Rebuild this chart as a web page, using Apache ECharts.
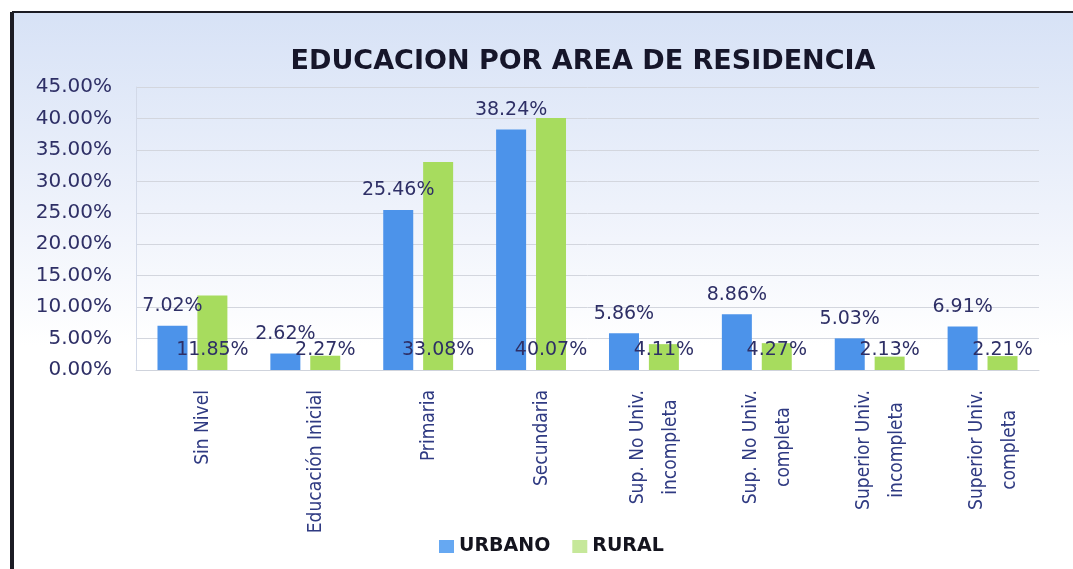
<!DOCTYPE html>
<html>
<head>
<meta charset="utf-8">
<script src="https://cdn.jsdelivr.net/npm/echarts@6/dist/echarts.min.js"></script>
<style>
  html, body { margin: 0; padding: 0; background: #fff; }
  #chart { width: 1073px; height: 569px; }
</style>
</head>
<body>
<div id="chart"></div>
<script>
const categories = [
  "Sin Nivel",
  "Educación Inicial",
  "Primaria",
  "Secundaria",
  "Sup. No Univ.\nincompleta",
  "Sup. No Univ.\ncompleta",
  "Superior Univ.\nincompleta",
  "Superior Univ.\ncompleta",
];
const urbano = [7.02, 2.62, 25.46, 38.24, 5.86, 8.86, 5.03, 6.91];
const rural = [11.85, 2.27, 33.08, 40.07, 4.11, 4.27, 2.13, 2.21];

const navy = "#2e2f66";
const pct = (v) => v.toFixed(2) + "%";

const chart = echarts.init(document.getElementById("chart"), null, { renderer: "canvas" });

chart.setOption({
  backgroundColor: "#ffffff",
  animation: false,
  graphic: [
    {
      type: "rect",
      z: -10,
      shape: { x: 12, y: 12, width: 1061, height: 557 },
      style: {
        fill: new echarts.graphic.LinearGradient(0, 0, 0, 1, [
          { offset: 0, color: "#d7e2f6" },
          { offset: 0.35, color: "#eef2fb" },
          { offset: 0.6, color: "#ffffff" },
        ]),
      },
    },
    { type: "line", z: 10, shape: { x1: 12, y1: 12, x2: 1073, y2: 12 }, style: { stroke: "#1c1c24", lineWidth: 2 } },
    { type: "line", z: 10, shape: { x1: 12, y1: 12, x2: 12, y2: 569 }, style: { stroke: "#1c1c24", lineWidth: 4 } },
  ],
  title: {
    text: "EDUCACION POR AREA DE RESIDENCIA",
    left: 578,
    top: 43,
    textAlign: "center",
    textStyle: { fontFamily: "DejaVu Sans", fontWeight: "bold", fontSize: 27, color: "#16162a" },
  },
  legend: {
    left: 434,
    top: 532,
    itemWidth: 15,
    itemHeight: 13,
    itemGap: 22,
    icon: "rect",
    textStyle: { fontFamily: "DejaVu Sans", fontWeight: "bold", fontSize: 19, color: "#14141e" },
    data: [
      { name: "URBANO", itemStyle: { color: "#66a8f2" } },
      { name: "RURAL", itemStyle: { color: "#c6e89a" } },
    ],
  },
  grid: { left: 136, right: 34, top: 87, bottom: 199, containLabel: false },
  xAxis: {
    type: "category",
    data: categories,
    axisTick: { show: false },
    axisLine: { lineStyle: { color: "#cfd3dc", width: 1 } },
    axisLabel: {
      rotate: 90,
      margin: 20,
      interval: 0,
      padding: [22, 0, 0, 0],
      formatter: (v) => v.split("\n").map((s) => "{c|" + s + "}").join("\n"),
      rich: {
        c: {
          align: "center",
          fontFamily: "DejaVu Sans Condensed",
          fontSize: 19,
          lineHeight: 33,
          color: "#2f3a82",
        },
      },
    },
  },
  yAxis: {
    type: "value",
    min: 0,
    max: 45,
    interval: 5,
    axisLine: { show: true, lineStyle: { color: "#d2d9e8" } },
    axisTick: { show: false },
    splitLine: { lineStyle: { color: "#d3d6de", width: 1 } },
    axisLabel: {
      margin: 24,
      formatter: pct,
      fontFamily: "DejaVu Sans",
      fontSize: 20,
      color: navy,
    },
  },
  series: [
    {
      name: "URBANO",
      type: "bar",
      data: urbano,
      barWidth: 30,
      barGap: "33%",
      itemStyle: { color: "#4c93ea" },
      label: {
        show: true,
        position: "top",
        distance: 10,
        formatter: (p) => pct(p.value),
        fontFamily: "DejaVu Sans",
        fontSize: 19,
        color: navy,
      },
    },
    {
      name: "RURAL",
      type: "bar",
      data: rural,
      barWidth: 30,
      itemStyle: { color: "#a7dc5e" },
      label: {
        show: true,
        position: "insideBottom",
        distance: 10,
        formatter: (p) => pct(p.value),
        fontFamily: "DejaVu Sans",
        fontSize: 19,
        color: navy,
      },
    },
  ],
});
</script>
</body>
</html>
